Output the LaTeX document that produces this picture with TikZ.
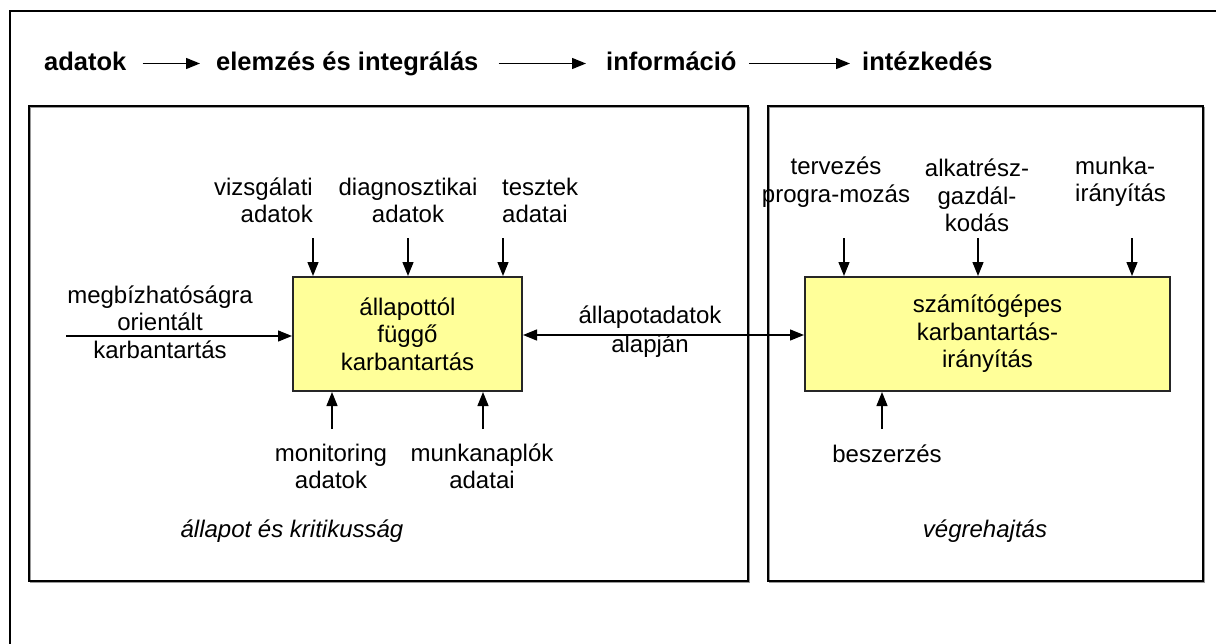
\documentclass[tikz,border=0pt]{standalone}
\usepackage{fontspec}
\setmainfont{Liberation Sans}
\usetikzlibrary{arrows.meta}
\definecolor{yellowfill}{HTML}{FFFF99}
\begin{document}
\begin{tikzpicture}[x=1pt,y=-1pt,
  lbl/.style={font=\fontsize{24}{27.5}\selectfont, align=center, inner sep=0pt},
  hdr/.style={font=\fontsize{25.5}{28}\selectfont\bfseries, inner sep=0pt, anchor=base west, text height=18pt, text depth=5pt},
  tip/.style={-{Triangle[length=14pt,width=11pt]}},
  arr/.style={line width=1.3pt, tip},
  dbl/.style={line width=1.3pt, {Triangle[length=14pt,width=11pt]}-{Triangle[length=14pt,width=11pt]}},
  frameline/.style={line width=2.6pt},
  panel/.style={line width=2pt, draw=black},
  panelshadow/.style={line width=1.5pt, draw=black!40},
  yel/.style={draw=black!85, line width=2pt, fill=yellowfill, inner sep=0pt, align=center,
              font=\fontsize{24}{27.5}\selectfont},
]
\useasboundingbox (0,0) rectangle (1216,643);
\fill[white] (0,0) rectangle (1216,643);

% outer frame (cropped)
\draw[frameline] (1230,11) -- (10,11) -- (10,660);

% panels
\draw[panelshadow] (30.5,107.5) rectangle (749.5,582.5);
\draw[panel] (29,106) rectangle (748,581);
\draw[panelshadow] (769.5,107.5) rectangle (1204.5,582.5);
\draw[panel] (768,106) rectangle (1203,581);

% header
\node[hdr] (h1) at (44,70) {adatok};
\node[hdr] (h2) at (216,70) {elemzés és integrálás};
\node[hdr] (h3) at (606,70) {információ};
\node[hdr] (h4) at (862,70) {intézkedés};
\draw[arr] ([xshift=16pt]h1.east) -- ([xshift=-16pt]h2.west);
\draw[arr] ([xshift=20pt]h2.east) -- ([xshift=-20pt]h3.west);
\draw[arr] ([xshift=12pt]h3.east) -- ([xshift=-12pt]h4.west);

% yellow boxes
\node[yel, minimum width=229pt, minimum height=114pt] (boxL) at (407.5,334)
  {állapottól\\függő\\karbantartás};
\node[yel, minimum width=365pt, minimum height=114pt] (boxR) at (987.5,334)
  {számítógépes\\karbantartás-\\irányítás};

% left box inputs from top
\node[lbl, anchor=east, align=right] (vizs) at (313,200.5) {vizsgálati\\adatok};
\node[lbl] (diag) at (408,200.5) {diagnosztikai\\adatok};
\node[lbl, anchor=west, align=left] (teszt) at (502,200.5) {tesztek\\adatai};
\coordinate (t1) at (313,238);
\coordinate (t2) at (408,238);
\coordinate (t3) at (503,238);
\draw[arr] (t1) -- (t1 |- boxL.north);
\draw[arr] (t2) -- (t2 |- boxL.north);
\draw[arr] (t3) -- (t3 |- boxL.north);

% left input
\node[lbl] (megb) at (160,322) {megbízhatóságra\\orientált\\karbantartás};
\coordinate (m0) at (66,336);
\draw[arr] (m0) -- (m0 -| boxL.west);

% bottom inputs
\node[lbl] (moni) at (331,466.5) {monitoring\\adatok};
\node[lbl] (munk) at (482,466.5) {munkanaplók\\adatai};
\coordinate (b1) at (332,429);
\coordinate (b2) at (483,429);
\draw[arr] (b1) -- (b1 |- boxL.south);
\draw[arr] (b2) -- (b2 |- boxL.south);

% double arrow
\draw[dbl] (boxL.east |- 0,335) -- (boxR.west |- 0,335);
\node[lbl] (allad) at (650,331.5) {állapotadatok\\[1.5pt]alapján};

% right box inputs
\node[lbl] (terv) at (836,182) {tervezés\\progra-mozás};
\node[lbl] (alk) at (977,195.5) {alkatrész-\\gazdál-\\kodás};
\node[lbl, anchor=west, align=left] (munka) at (1075,182) {munka-\\irányítás};
\coordinate (r1) at (844,238);
\coordinate (r2) at (978,238);
\coordinate (r3) at (1132,238);
\draw[arr] (r1) -- (r1 |- boxR.north);
\draw[arr] (r2) -- (r2 |- boxR.north);
\draw[arr] (r3) -- (r3 |- boxR.north);

\node[lbl] (besz) at (887,454) {beszerzés};
\coordinate (rb) at (882,429);
\draw[arr] (rb) -- (rb |- boxR.south);

% panel captions
\node[lbl, font=\fontsize{24}{27.5}\selectfont\itshape] (capL) at (292,531) {állapot és kritikusság};
\node[lbl, font=\fontsize{24}{27.5}\selectfont\itshape] (capR) at (985,531) {végrehajtás};
\end{tikzpicture}
\end{document}
